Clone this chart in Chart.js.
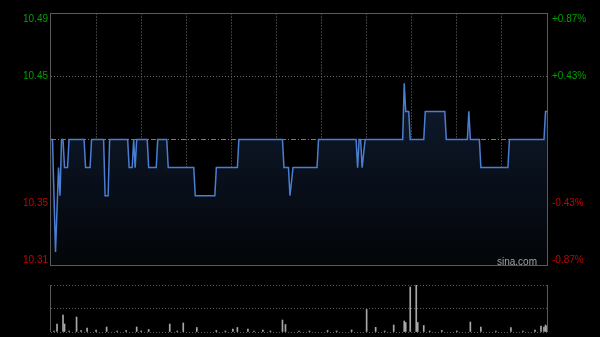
<!DOCTYPE html>
<html>
<head>
<meta charset="utf-8">
<script src="https://cdn.jsdelivr.net/npm/chart.js@4/dist/chart.umd.min.js"></script>
<style>
  html, body { margin: 0; padding: 0; background: #000; }
  #wrap { position: relative; width: 600px; height: 337px; background: #000; }
  canvas { position: absolute; left: 0; }
</style>
</head>
<body>
<div id="wrap">
  <canvas id="priceChart" width="600" height="272" style="top:0"></canvas>
  <canvas id="volChart" width="600" height="65" style="top:272px"></canvas>
</div>
<script>
// minutes since 9:30 (HK session, 330 min) where the price line turns
const priceMinutes = [0, 1, 3, 5, 6, 7, 8, 9, 11, 12, 22, 23, 26, 27, 35, 36, 38, 39, 51, 52, 54, 55, 56, 57,
  64, 65, 70, 71, 77, 78, 95, 96, 109, 110, 124, 125, 154, 155, 158, 159, 161, 177, 178,
  203, 204, 205, 206, 207, 209, 234, 235, 236, 238, 239, 248, 249, 262, 263, 277, 278, 279,
  285, 286, 304, 305, 328, 329, 330];
const prices = [10.40, 10.40, 10.32, 10.38, 10.36, 10.40, 10.40, 10.38, 10.38, 10.40, 10.40, 10.38, 10.38, 10.40, 10.40, 10.36, 10.36, 10.40, 10.40, 10.38, 10.38, 10.40, 10.38, 10.40,
  10.40, 10.38, 10.38, 10.40, 10.40, 10.38, 10.38, 10.36, 10.36, 10.38, 10.38, 10.40, 10.40, 10.38, 10.38, 10.36, 10.38, 10.38, 10.40,
  10.40, 10.38, 10.40, 10.40, 10.38, 10.40, 10.40, 10.44, 10.42, 10.42, 10.40, 10.40, 10.42, 10.42, 10.40, 10.40, 10.42, 10.40,
  10.40, 10.38, 10.38, 10.40, 10.40, 10.42, 10.42];

// volume bars (minute, volume)
const volMinutes = [2, 4, 8, 9, 12, 17, 20, 24, 30, 37, 44, 50, 57, 60, 65, 79, 84, 88, 97, 110, 116, 121, 124, 131, 135, 141, 146,
  154, 156, 165, 172, 184, 190, 200, 210, 216, 222, 228, 235, 236, 239, 243, 244, 248, 252, 260, 270, 279, 286, 296, 306, 314, 322, 326, 328, 329, 330];
const volumes = [1, 8, 17, 8, 1, 15, 1.5, 4, 2, 5, 1, 1.5, 5, 1, 2.5, 8, 1, 9, 4.5, 1.5, 1, 3, 4.5, 3, 1, 2, 1,
  12, 7.5, 1, 1, 1.5, 1, 2, 22.5, 4.7, 1, 7, 11, 9.5, 45, 47, 9.5, 6.5, 1, 1.5, 1, 10, 5, 1, 4.5, 1, 2, 6, 5, 7, 6];

const prevClose = 10.40;
const yMin = 10.31, yMax = 10.49;
const yGridValues = [10.31, 10.355, 10.40, 10.445, 10.49];
const leftLabels = ['10.31', '10.35', '', '10.45', '10.49'];
const rightLabels = ['-0.87%', '-0.43%', '', '+0.43%', '+0.87%'];
const volMax = 47;

const GREEN = '#00a000';
const RED = '#c80000';
const FRAME = '#5a5a5a';

// frame + side labels + watermark
const priceDecor = {
  id: 'priceDecor',
  afterDraw(chart) {
    const { ctx, chartArea: a, scales } = chart;
    ctx.save();
    ctx.strokeStyle = FRAME;
    ctx.lineWidth = 1;
    ctx.strokeRect(Math.round(a.left) - 0.5, Math.round(a.top) + 0.5, Math.round(a.right - a.left) + 1, Math.round(a.bottom - a.top) - 1);

    ctx.font = '10px "Liberation Sans", Arial, sans-serif';
    ctx.textBaseline = 'middle';
    yGridValues.forEach((v, i) => {
      if (!leftLabels[i]) return;
      let y = scales.y.getPixelForValue(v);
      y = Math.min(Math.max(y, a.top + 6), a.bottom - 6);
      ctx.fillStyle = v > prevClose ? GREEN : RED;
      ctx.textAlign = 'right';
      ctx.fillText(leftLabels[i], a.left - 3, y);
      ctx.textAlign = 'left';
      ctx.fillText(rightLabels[i], a.right + 5, y);
    });

    ctx.fillStyle = '#a0a0a0';
    ctx.textAlign = 'right';
    ctx.fillText('sina.com', a.right - 10, a.bottom - 4);
    ctx.restore();
  }
};

new Chart(document.getElementById('priceChart'), {
  type: 'line',
  data: {
    datasets: [{
      data: priceMinutes.map((m, i) => ({ x: m, y: prices[i] })),
      borderColor: '#4a7ed2',
      borderWidth: 1.5,
      pointRadius: 0,
      tension: 0,
      fill: 'start',
      backgroundColor: (c) => {
        const a = c.chart.chartArea;
        if (!a) return 'rgba(0,0,0,0)';
        const g = c.chart.ctx.createLinearGradient(0, a.top, 0, a.bottom);
        g.addColorStop(0, '#14243f');
        g.addColorStop(1, '#030508');
        return g;
      }
    }]
  },
  options: {
    responsive: false,
    animation: false,
    devicePixelRatio: 1,
    layout: { padding: { left: 51, right: 53, top: 13, bottom: 6 } },
    scales: {
      x: {
        type: 'linear', min: 0, max: 330,
        ticks: { display: false, stepSize: 30 },
        grid: {
          drawTicks: false,
          color: (c) => (c.tick && (c.tick.value === 0 || c.tick.value === 330)) ? 'rgba(0,0,0,0)' : '#3c3c3c'
        },
        border: { display: false, dash: [2, 1] }
      },
      y: {
        min: yMin, max: yMax,
        afterBuildTicks: (s) => { s.ticks = yGridValues.map(v => ({ value: v })); },
        ticks: { display: false },
        grid: {
          drawTicks: false,
          color: (c) => {
            const v = c.tick ? c.tick.value : null;
            if (v === yMin || v === yMax) return 'rgba(0,0,0,0)';
            return v === prevClose ? '#7a7a7a' : '#6a6a6a';
          }
        },
        border: {
          display: false,
          dash: (c) => (c.tick && c.tick.value === prevClose) ? [5, 2, 1, 2] : [1, 2]
        }
      }
    },
    plugins: { legend: { display: false }, tooltip: { enabled: false } }
  },
  plugins: [priceDecor]
});

const volDecor = {
  id: 'volDecor',
  afterDraw(chart) {
    const { ctx, chartArea: a } = chart;
    ctx.save();
    ctx.strokeStyle = FRAME;
    ctx.lineWidth = 1;
    ctx.beginPath();
    ctx.moveTo(Math.round(a.left) - 0.5, a.top);
    ctx.lineTo(Math.round(a.left) - 0.5, a.bottom);
    ctx.moveTo(Math.round(a.right) + 0.5, a.top);
    ctx.lineTo(Math.round(a.right) + 0.5, a.bottom);
    ctx.stroke();
    ctx.restore();
  }
};

new Chart(document.getElementById('volChart'), {
  type: 'bar',
  data: {
    datasets: [{
      data: volMinutes.map((m, i) => ({ x: m, y: volumes[i] })),
      backgroundColor: '#a8a8a8',
      barThickness: 1
    }]
  },
  options: {
    responsive: false,
    animation: false,
    devicePixelRatio: 1,
    layout: { padding: { left: 51, right: 53, top: 13, bottom: 5 } },
    scales: {
      x: {
        type: 'linear', min: 0, max: 330, offset: false,
        display: false
      },
      y: {
        min: 0, max: volMax,
        afterBuildTicks: (s) => { s.ticks = [0, volMax / 2, volMax].map(v => ({ value: v })); },
        ticks: { display: false },
        grid: { drawTicks: false, color: '#5a5a5a' },
        border: { display: false, dash: [1, 2] }
      }
    },
    plugins: { legend: { display: false }, tooltip: { enabled: false } }
  },
  plugins: [volDecor]
});
</script>
</body>
</html>
